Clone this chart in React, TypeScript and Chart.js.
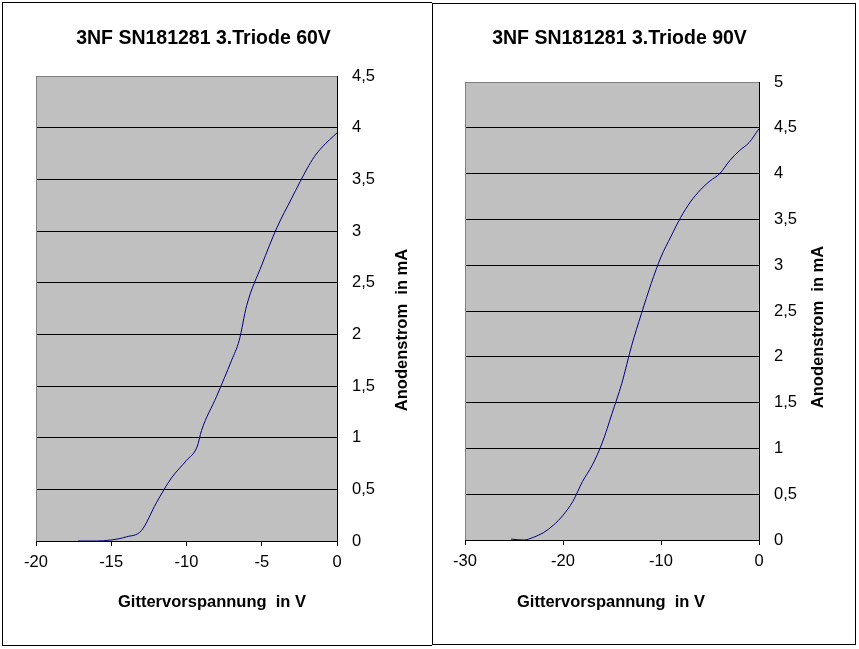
import React, { useEffect, useRef } from "react";
import { Chart, registerables } from "chart.js";

Chart.register(...registerables);

// ---- Data ----
const gridVoltage60 = [-17.2, -16, -15, -14, -13, -12, -11, -10, -9.3, -9, -8, -7, -6.5, -6, -5, -4, -3, -2, -1.5, -1, 0];
const anodeCurrent60 = [0, 0, 0.01, 0.04, 0.1, 0.37, 0.61, 0.78, 0.91, 1.07, 1.4, 1.75, 1.94, 2.28, 2.67, 3.03, 3.32, 3.6, 3.72, 3.81, 3.95];

const gridVoltage90 = [-25.3, -24, -23, -22, -21, -20, -19, -18, -17, -16, -15, -14, -13, -12, -11, -10, -9, -8, -7, -6, -5, -4, -3, -2, -1, 0];
const anodeCurrent90 = [0.01, 0, 0.03, 0.08, 0.16, 0.27, 0.42, 0.64, 0.82, 1.06, 1.38, 1.71, 2.12, 2.47, 2.8, 3.09, 3.31, 3.52, 3.69, 3.82, 3.92, 4.0, 4.14, 4.25, 4.34, 4.49];

const title60 = "3NF SN181281 3.Triode 60V";
const title90 = "3NF SN181281 3.Triode 90V";
const xAxisTitle = "Gittervorspannung  in V";
const yAxisTitle = "Anodenstrom  in mA";

const xRange60 = [-20, 0];
const xStep60 = 5;
const yRange60 = [0, 4.5];
const xRange90 = [-30, 0];
const xStep90 = 10;
const yRange90 = [0, 5];
const yStep = 0.5;

const FONT = "'Liberation Sans', Arial, sans-serif";

type TextPos = {
  titleX: number; titleY: number;
  xTitleX: number; xTitleY: number;
  yTitleX: number; yTitleY: number;
};

function makeDecor(title: string, pos: TextPos) {
  return {
    id: "decor",
    beforeDraw(chart: any) {
      const { ctx, chartArea: a } = chart;
      ctx.save();
      ctx.fillStyle = "#c0c0c0";
      ctx.fillRect(a.left, a.top, a.right - a.left, a.bottom - a.top);
      ctx.restore();
    },
    beforeDatasetsDraw(chart: any) {
      const { ctx, chartArea: a } = chart;
      ctx.save();
      ctx.strokeStyle = "#808080";
      ctx.lineWidth = 1;
      ctx.beginPath();
      ctx.moveTo(Math.round(a.left) + 0.5, a.bottom);
      ctx.lineTo(Math.round(a.left) + 0.5, Math.round(a.top) + 0.5);
      ctx.lineTo(a.right, Math.round(a.top) + 0.5);
      ctx.stroke();
      ctx.restore();
    },
    afterDraw(chart: any) {
      const { ctx } = chart;
      ctx.save();
      ctx.fillStyle = "#000";
      ctx.textAlign = "center";
      ctx.textBaseline = "alphabetic";
      ctx.font = `bold 19.5px ${FONT}`;
      ctx.fillText(title, pos.titleX, pos.titleY);
      ctx.font = `bold 16.5px ${FONT}`;
      ctx.fillText(xAxisTitle, pos.xTitleX, pos.xTitleY);
      ctx.translate(pos.yTitleX, pos.yTitleY);
      ctx.rotate(-Math.PI / 2);
      ctx.fillText(yAxisTitle, 0, 0);
      ctx.restore();
    },
  };
}

type Props = {
  xs: number[]; ys: number[];
  xRange: number[]; xStep: number; yRange: number[];
  title: string; pos: TextPos;
  width: number; height: number;
  padding: { left: number; top: number; right: number; bottom: number };
};

function TriodeChart(p: Props) {
  const ref = useRef<HTMLCanvasElement | null>(null);
  useEffect(() => {
    if (!ref.current) return;
    const points = p.xs.map((x, i) => ({ x, y: p.ys[i] }));
    const yMax = p.yRange[1];
    const chart = new Chart(ref.current, {
      type: "line",
      data: {
        datasets: [
          {
            data: points,
            borderColor: "#000080",
            borderWidth: 1,
            pointRadius: 0,
            fill: false,
            cubicInterpolationMode: "monotone",
          },
        ],
      },
      options: {
        animation: false,
        responsive: true,
        maintainAspectRatio: false,
        layout: { padding: p.padding },
        plugins: { legend: { display: false }, tooltip: { enabled: false }, title: { display: false } },
        scales: {
          x: {
            type: "linear",
            position: "bottom",
            min: p.xRange[0],
            max: p.xRange[1],
            afterFit: (s: any) => { s.height = 40; },
            ticks: {
              stepSize: p.xStep,
              color: "#000",
              padding: 7,
              font: { family: FONT, size: 16.5 },
              maxRotation: 0,
              autoSkip: false,
              callback: (v: any) => String(v),
            },
            grid: { drawOnChartArea: false, drawTicks: true, tickLength: 5, color: "#000" },
            border: { display: true, color: "#000", width: 1 },
          },
          y: {
            type: "linear",
            position: "right",
            min: p.yRange[0],
            max: yMax,
            afterFit: (s: any) => { s.width = 60; },
            ticks: {
              stepSize: yStep,
              color: "#000",
              padding: 15,
              font: { family: FONT, size: 16.5 },
              autoSkip: false,
              callback: (v: any) => String(v).replace(".", ","),
            },
            grid: {
              drawTicks: false,
              color: (c: any) => (c.tick && c.tick.value === yMax ? "#808080" : "#000"),
              lineWidth: 1,
            },
            border: { display: true, color: "#000", width: 1 },
          },
        },
      } as any,
      plugins: [makeDecor(p.title, p.pos)],
    });
    return () => chart.destroy();
  }, []);
  return (
    <div style={{ position: "relative", width: p.width, height: p.height }}>
      <canvas ref={ref} />
    </div>
  );
}

export default function App() {
  return (
    <div style={{ position: "absolute", left: 0, top: 0, width: 859, height: 649, background: "#fff" }}>
      <div
        style={{
          position: "absolute", left: 2, top: 2, width: 430, height: 644, boxSizing: "border-box",
          borderLeft: "1px solid #000", borderTop: "1px solid #000", borderBottom: "1px solid #000",
        }}
      >
        <TriodeChart
          xs={gridVoltage60} ys={anodeCurrent60}
          xRange={xRange60} xStep={xStep60} yRange={yRange60}
          title={title60}
          pos={{ titleX: 200.5, titleY: 41, xTitleX: 209, xTitleY: 604, yTitleX: 404, yTitleY: 327 }}
          width={429} height={642}
          padding={{ left: 33, top: 73, right: 35, bottom: 64 }}
        />
      </div>
      <div
        style={{
          position: "absolute", left: 432, top: 3, width: 424, height: 642, boxSizing: "border-box",
          border: "1px solid #000",
        }}
      >
        <TriodeChart
          xs={gridVoltage90} ys={anodeCurrent90}
          xRange={xRange90} xStep={xStep90} yRange={yRange90}
          title={title90}
          pos={{ titleX: 186.5, titleY: 40, xTitleX: 178, xTitleY: 603, yTitleX: 390, yTitleY: 323 }}
          width={422} height={640}
          padding={{ left: 32, top: 78, right: 36, bottom: 64 }}
        />
      </div>
    </div>
  );
}
